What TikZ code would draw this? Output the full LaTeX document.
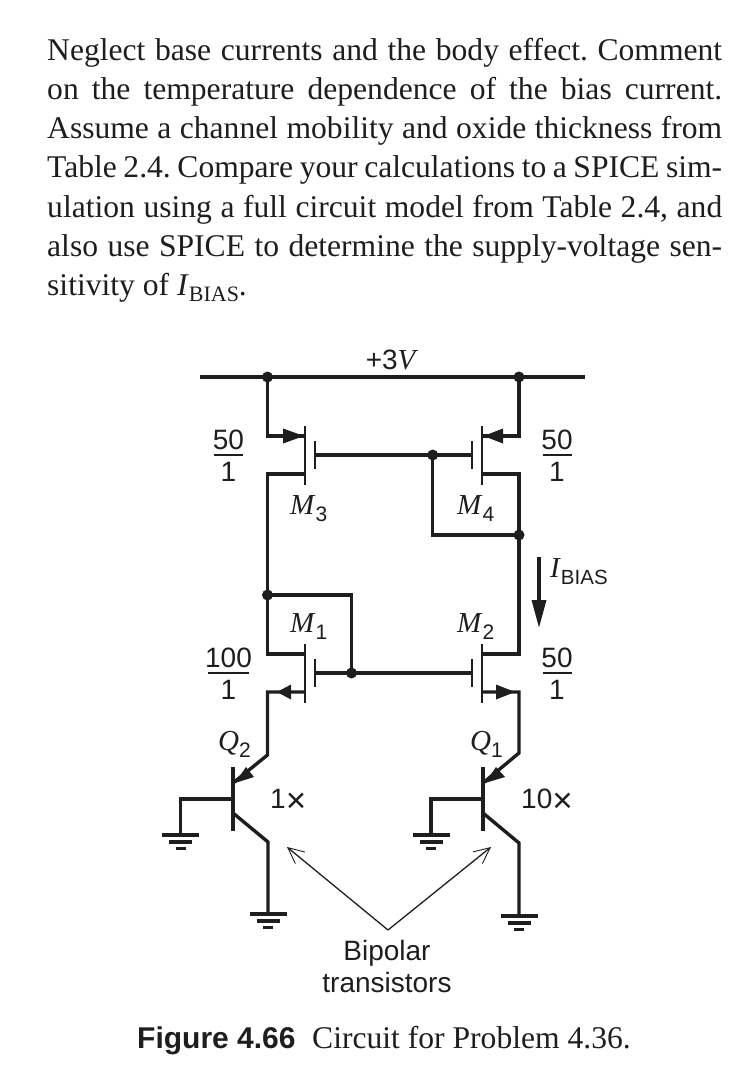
\documentclass[tikz,border=0pt]{standalone}
\usepackage{fontspec}
\setmainfont{Liberation Serif}
\setsansfont{Liberation Sans}
\usetikzlibrary{arrows.meta,backgrounds}
\definecolor{ink}{HTML}{1F1D1E}
\newcommand{\Lab}[2]{\textit{\fontsize{29}{30}\selectfont #1}\raisebox{-7.5pt}{\sffamily\fontsize{21}{22}\selectfont #2}}
\newcommand{\Timesx}{\raisebox{-4pt}{\fontsize{35}{38}\selectfont ×}}
\newcommand{\Fill}[1]{\hbox to 675pt{\frenchspacing\spaceskip=.25em plus 1fil minus .1em #1}}
\tikzset{
  wire/.style={draw=ink,line width=3.4pt,line join=miter},
  bar/.style={draw=ink,line width=2.8pt},
  thin wire/.style={draw=ink,line width=1.3pt,-{Straight Barb[length=16pt,width=15pt,line width=0.9pt]}},
  head/.style={draw=none,fill=ink},
  dot/.style={circle,fill=ink,inner sep=0pt,minimum size=11pt},
  lbl/.style={inner sep=0pt,anchor=base west,text=ink},
  sf/.style={inner sep=0pt,anchor=base,text=ink,font=\sffamily\fontsize{28}{32}\selectfont},
  bodyline/.style={inner sep=0pt,anchor=base west,text=ink,font=\fontsize{31.6}{39}\selectfont},
  gnd/.pic={
    \draw[draw=ink,line width=3.3pt] (-18.5,0)--(18.5,0) (-11.5,7)--(11.5,7) (-5,13.5)--(5,13.5);
  }
}
\begin{document}
\begin{tikzpicture}[x=1pt,y=-1pt]
\useasboundingbox (0,0) rectangle (742,1066);
\node[bodyline] (p1) at (47,60) {\Fill{Neglect base currents and the body effect. Comment}};
\node[bodyline] (p2) at (47,99) {\Fill{on the temperature dependence of the bias current.}};
\node[bodyline] (p3) at (47,138) {\Fill{Assume a channel mobility and oxide thickness from}};
\node[bodyline] (p4) at (47,177) {\Fill{Table 2.4. Compare your calculations to a SPICE sim-}};
\node[bodyline] (p5) at (47,217) {\Fill{ulation using a full circuit model from Table 2.4, and}};
\node[bodyline] (p6) at (47,256) {\Fill{also use SPICE to determine the supply-voltage sen-}};
\node[bodyline] (p7) at (47,295) {sitivity of \textit{I}\raisebox{-6pt}{\fontsize{22}{24}\selectfont BIAS}.};

% rail
\coordinate (railL) at (200,377); \coordinate (railR) at (585,377);
\node[dot] (vL) at (267.5,377) {}; \node[dot] (vR) at (519,377) {};
% named points
\coordinate (m3s) at (305,436); \coordinate (m3d) at (305,474);
\coordinate (m4s) at (482,436); \coordinate (m4d) at (482,474);
\coordinate (m1d) at (305,654); \coordinate (m1s) at (305,692);
\coordinate (m2d) at (482,654); \coordinate (m2s) at (482,692);
\coordinate (g3) at (315,455); \coordinate (g4) at (472,455);
\coordinate (g1) at (315,673); \coordinate (g2) at (472,673);
\node[dot] (n4g) at (432.7,455) {};
\node[dot] (n4d) at (519,535) {};
\node[dot] (n3d) at (267.5,595) {};
\node[dot] (n1g) at (351.5,673) {};
\coordinate (e2t) at (267.5,755); \coordinate (e1t) at (519,753);
\coordinate (q2b) at (233,783); \coordinate (q1b) at (483,783);
\begin{scope}[on background layer]
\draw[wire] (railL)--(railR);
\draw[wire] (vL.center) |- (m3s);
\draw[wire] (vR.center) |- (m4s);
\draw[wire] (g3)--(g4);
\draw[wire] (m4d) -| (n4d.center);
\draw[wire] (n4g.center) |- (n4d.center);
\draw[wire] (m3d) -| (n3d.center);
\draw[wire] (n3d.center) -| (n1g.center);
\draw[wire] (g1)--(g2);
\draw[wire] (n3d.center) |- (m1d);
\draw[wire] (n4d.center) |- (m2d);
\draw[wire] (m1s) -| (e2t) -- (q2b);
\draw[wire] (m2s) -| (e1t) -- (q1b);
\end{scope}
% channels and gates
\foreach \x/\yy in {305/426,482/426,305/644,482/644}
  \draw[bar] (\x,\yy)--(\x,\yy+59);
\foreach \x/\yy in {315/441,472/441,315/659,472/659}
  \draw[bar] (\x,\yy)--(\x,\yy+28);
% arrowheads of FETs
\fill[head] (283,428.5)--(304,436)--(283,443.5)--cycle;
\fill[head] (503,428.5)--(483.5,436)--(503,443.5)--cycle;
\fill[head] (291,684.5)--(277,692)--(291,699.5)--cycle;
\fill[head] (496,684.5)--(515,692)--(496,699.5)--cycle;
% BJTs
\draw[wire] (233,767)--(233,831);
\draw[wire] (483,767)--(483,831);
\fill[head] (235,783)--(246,767)--(254,777)--cycle;
\fill[head] (485,783)--(496,767)--(505,777)--cycle;
\coordinate (q2base) at (233,799); \coordinate (q1base) at (483,799);
\coordinate (g2b) at (180.5,835); \coordinate (g1b) at (431,835);
\draw[wire] (q2base) -| (g2b);
\draw[wire] (q1base) -| (g1b);
\coordinate (q2c) at (233,813); \coordinate (q2k) at (268,842); \coordinate (g2c) at (268,914);
\coordinate (q1c) at (483,813); \coordinate (q1k) at (519,843); \coordinate (g1c) at (519,916);
\draw[wire] (q2c)--(q2k)--(g2c);
\draw[wire] (q1c)--(q1k)--(g1c);
\pic at (g2b) {gnd}; \pic at (g1b) {gnd}; \pic at (g2c) {gnd}; \pic at (g1c) {gnd};
% I_BIAS arrow
\coordinate (ia) at (539,557); \coordinate (ib) at (539,628);
\draw[draw=ink,line width=3.3pt,-{Triangle[length=28pt,width=14pt]}] (ia)--(ib);
% annotation arrows
\coordinate (ann) at (388,930); \coordinate (ta) at (287,847); \coordinate (tb) at (491,847);
\draw[thin wire] (ann)--(ta);
\draw[thin wire] (ann)--(tb);
% labels
\node[sf] (vdd) at (392,369) {+3\textit{\rmfamily\fontsize{29}{30}\selectfont V}};
\foreach \n/\cx/\cy/\t/\w in {a/228.5/455/50/29,b/557/455/50/29,c/228.5/673/100/41,d/557/673/50/29}{
  \node[sf] (t\n) at (\cx,\cy-6) {\t};
  \node[sf] (u\n) at (\cx,\cy+26) {1};
  \draw[draw=ink,line width=1.5pt] (\cx-\w/2,\cy)--(\cx+\w/2,\cy);
}
\node[lbl] (lm3) at (290,514) {\Lab{M}{3}};
\node[lbl] (lm4) at (457,514) {\Lab{M}{4}};
\node[lbl] (lm1) at (290,632) {\Lab{M}{1}};
\node[lbl] (lm2) at (457,632) {\Lab{M}{2}};
\node[lbl] (lq2) at (218,750) {\Lab{Q}{2}};
\node[lbl] (lq1) at (470,750) {\Lab{Q}{1}};
\node[lbl,font=\sffamily\fontsize{28}{32}\selectfont] (x1) at (270,808) {1\Timesx};
\node[lbl,font=\sffamily\fontsize{28}{32}\selectfont] (x10) at (521,808) {10\Timesx};
\node[lbl] (ibias) at (550,577) {\textit{\fontsize{29}{30}\selectfont I}\raisebox{-7.5pt}{\sffamily\fontsize{20.5}{24}\selectfont BIAS}};
\node[sf] (bip) at (387,960) {Bipolar};
\node[sf] (tra) at (387,992) {transistors};
\node[lbl] (cap) at (137,1048) {\sffamily\bfseries\fontsize{30}{32}\selectfont Figure 4.66};
\node[lbl,font=\fontsize{31.6}{34}\selectfont] (cap2) at (312,1048) {Circuit for Problem 4.36.};
\end{tikzpicture}
\end{document}
